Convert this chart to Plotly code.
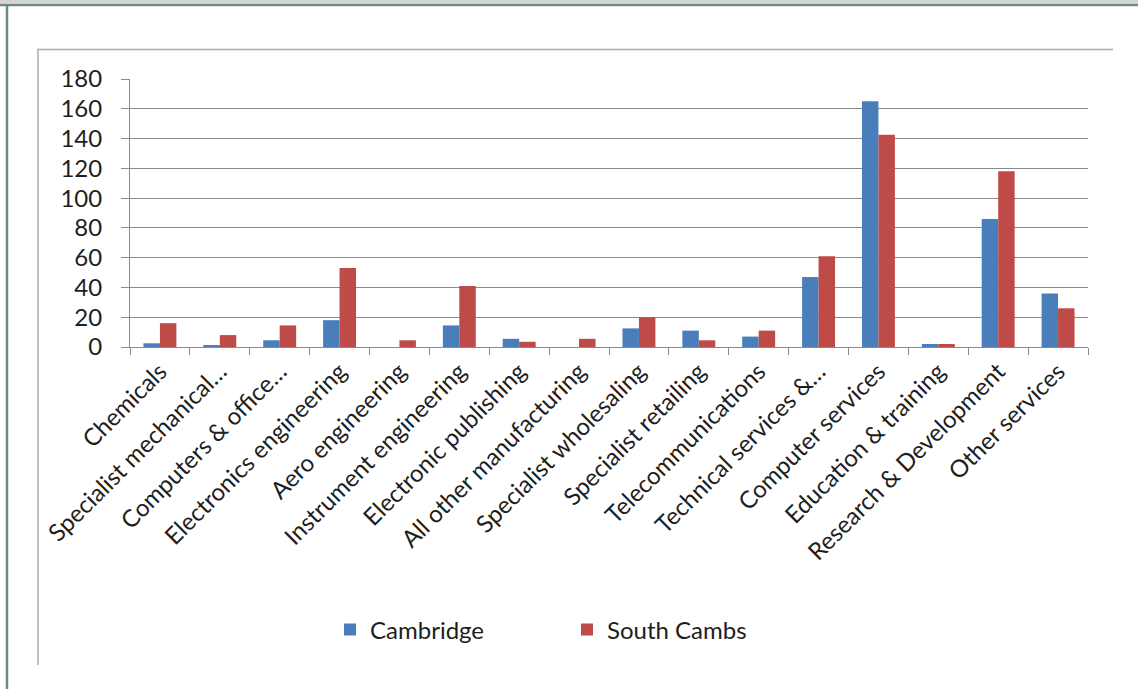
import plotly.graph_objects as go

# Business counts by sector, Cambridge vs South Cambridgeshire
categories = [
    "Chemicals",
    "Specialist mechanical…",
    "Computers & office…",
    "Electronics engineering",
    "Aero engineering",
    "Instrument engineering",
    "Electronic publishing",
    "All other manufacturing",
    "Specialist wholesaling",
    "Specialist retailing",
    "Telecommunications",
    "Technical services &…",
    "Computer services",
    "Education & training",
    "Research & Development",
    "Other services",
]
cambridge = [2.5, 1, 4.5, 18, 0, 14.5, 5.5, 0, 12.5, 11, 7, 47, 165, 2, 86, 36]
south_cambs = [16, 8, 14.5, 53, 4.5, 41, 3.5, 5.5, 20, 4.5, 11, 61, 142.5, 2, 118, 26]
y_ticks = [0, 20, 40, 60, 80, 100, 120, 140, 160, 180]

W, H = 1138, 689
L, R, T, B = 130, 50, 79, 342
FONT = "Lato"
TEXT = "#1e1e1e"


def px(x):
    return (x - L) / (W - L - R)


def py(y):
    return (H - B - y) / (H - T - B)


fig = go.Figure()
fig.add_trace(go.Bar(name="Cambridge", x=categories, y=cambridge,
                     marker=dict(color="#4A7EBB", line=dict(width=0))))
fig.add_trace(go.Bar(name="South Cambs", x=categories, y=south_cambs,
                     marker=dict(color="#BE4B48", line=dict(width=0))))

# page frame and chart-area border
P = dict(xref="paper", yref="paper", layer="above")
frame = [
    dict(type="rect", x0=px(0), x1=px(W), y0=py(0), y1=py(3.5),
         fillcolor="#d4d4d4", line=dict(width=0), **P),
    dict(type="line", x0=px(0), x1=px(W), y0=py(5), y1=py(5),
         line=dict(color="#6f8c7a", width=2.5), **P),
    dict(type="line", x0=px(7), x1=px(7), y0=py(4), y1=py(H),
         line=dict(color="#6f8c7a", width=2.5), **P),
    dict(type="line", x0=px(37), x1=px(1113), y0=py(49.5), y1=py(49.5),
         line=dict(color="#ababab", width=1.5), **P),
    dict(type="line", x0=px(38), x1=px(38), y0=py(49), y1=py(665),
         line=dict(color="#ababab", width=1.5), **P),
]

fig.update_layout(
    width=W, height=H,
    margin=dict(l=L, r=R, t=T, b=B),
    paper_bgcolor="white", plot_bgcolor="white",
    barmode="group", bargap=0.45, bargroupgap=0,
    font=dict(family=FONT, color=TEXT),
    shapes=frame,
    showlegend=True,
    legend=dict(orientation="h", x=px(330), xanchor="left",
                y=py(630), yanchor="middle",
                font=dict(size=24, family=FONT, color=TEXT),
                itemwidth=30, traceorder="normal",
                entrywidth=192, entrywidthmode="pixels"),
    xaxis=dict(
        type="category", tickangle=-45, tickson="boundaries",
        ticks="outside", ticklen=7, tickcolor="#8a8a8a",
        showline=True, linecolor="#8a8a8a", linewidth=1,
        showgrid=False, tickfont=dict(size=24, family=FONT, color=TEXT),
        fixedrange=True,
    ),
    yaxis=dict(
        range=[0, 180], tickvals=y_ticks, ticks="outside", ticklen=8,
        tickcolor="#8a8a8a", showline=True, linecolor="#8a8a8a", linewidth=1,
        showgrid=True, gridcolor="#8a8a8a", gridwidth=1, zeroline=False,
        tickfont=dict(size=24, family=FONT, color=TEXT),
        ticklabelstandoff=14,
        fixedrange=True,
    ),
)

fig.write_html("out.html")
